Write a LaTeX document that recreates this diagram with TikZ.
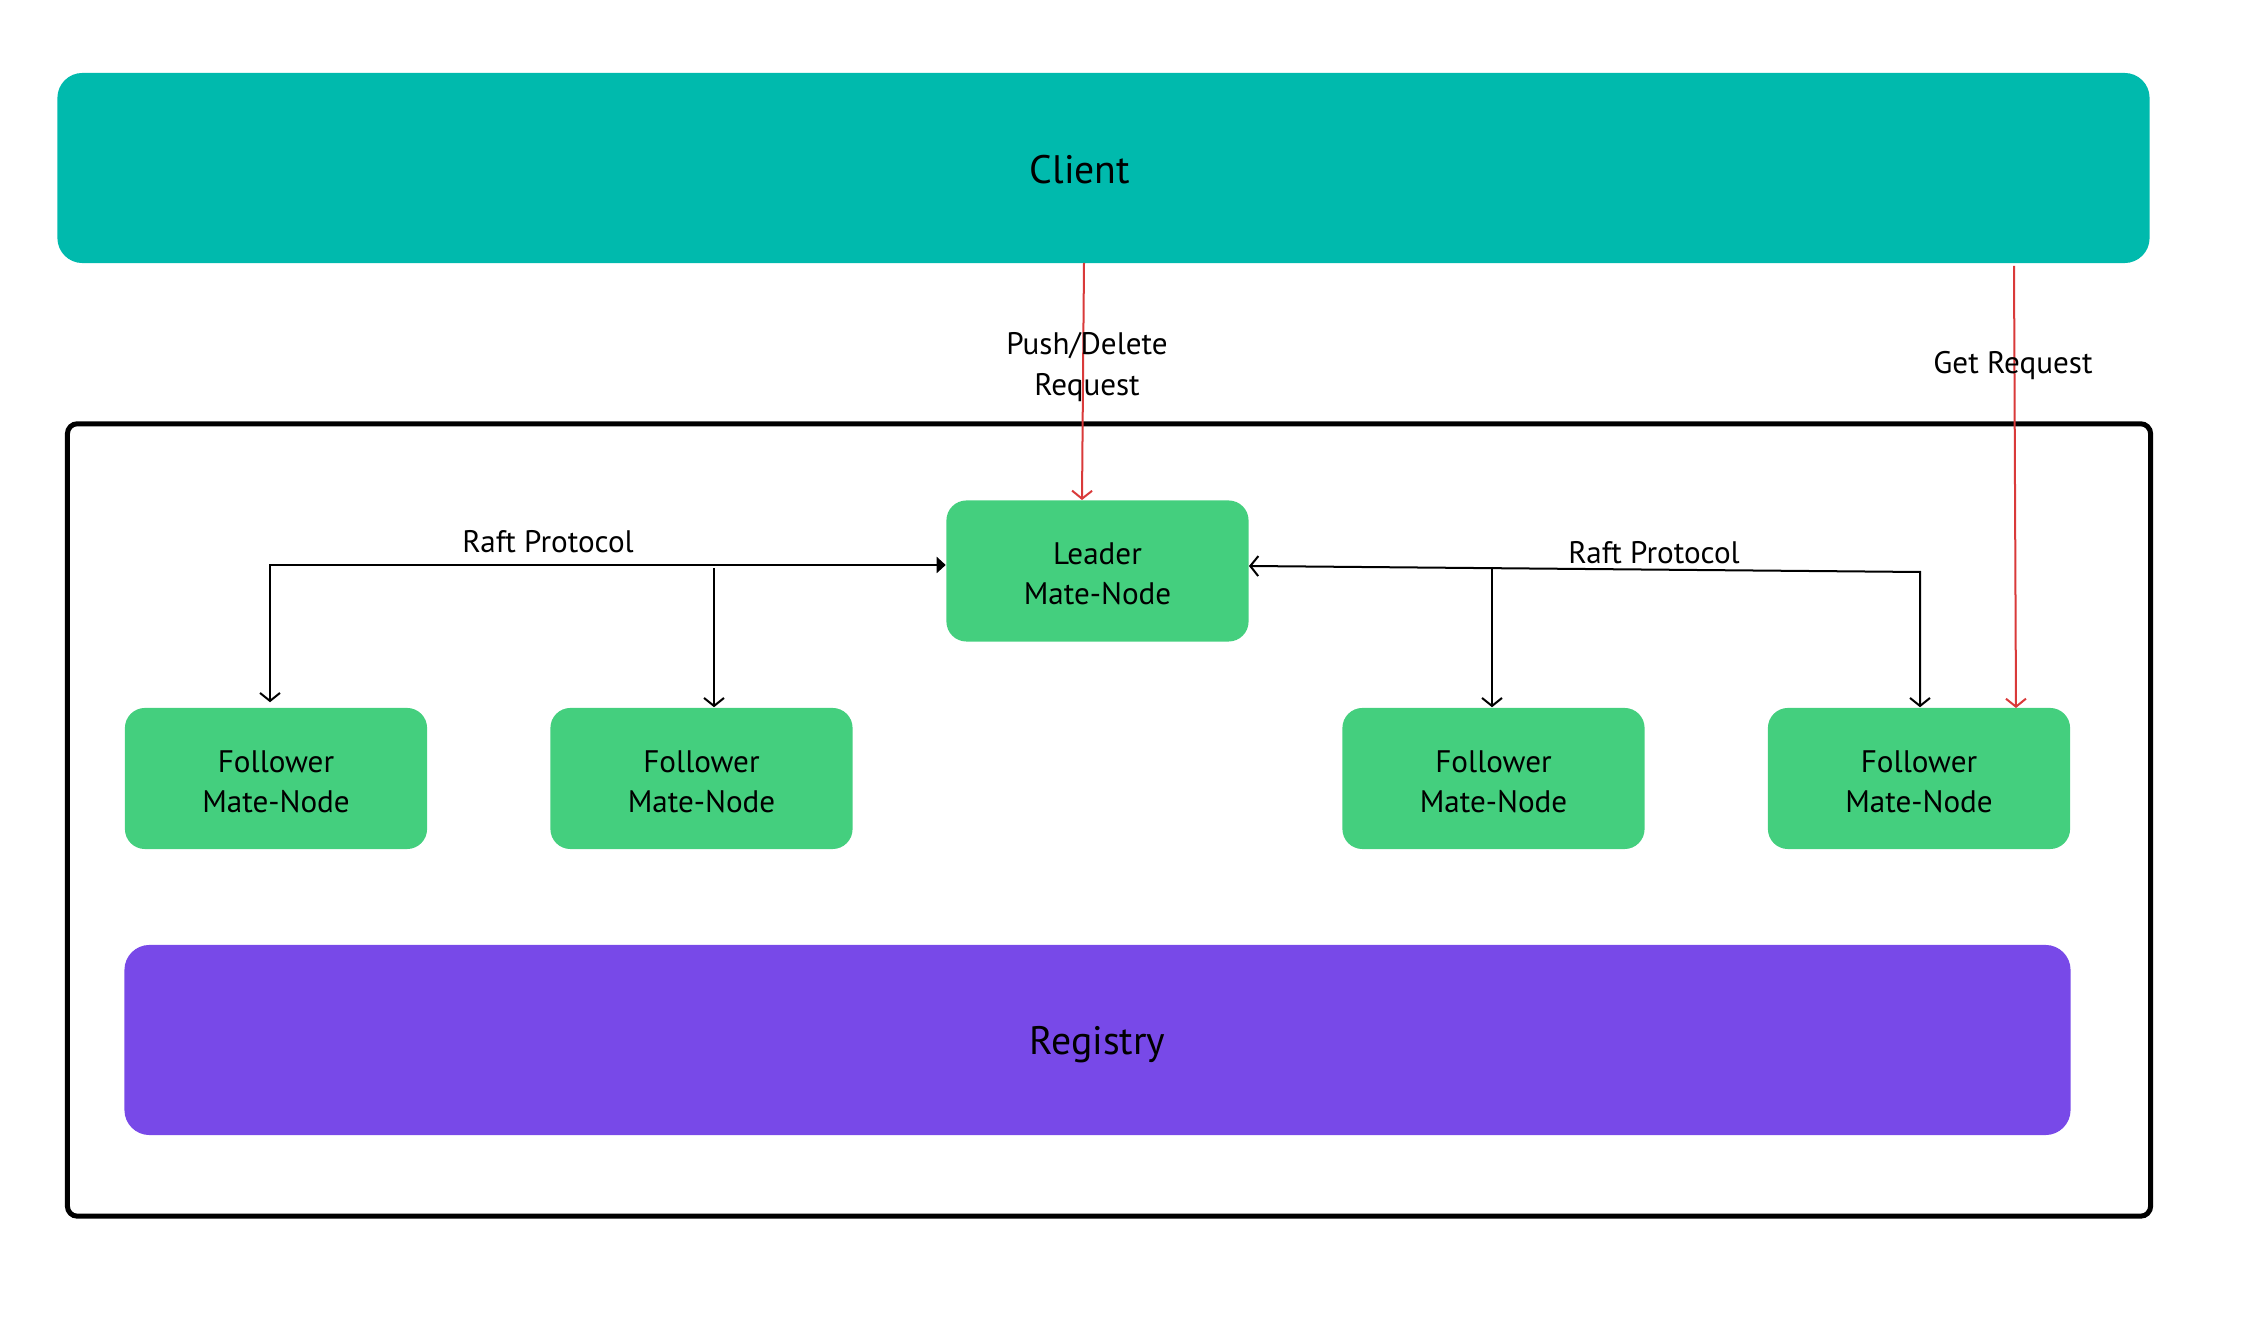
\documentclass[tikz,border=0pt]{standalone}
\usepackage{fontspec}
\setmainfont{PT Sans}
\usetikzlibrary{arrows.meta}
\definecolor{clientteal}{RGB}{0,186,173}
\definecolor{matego}{RGB}{68,207,126}
\definecolor{registrypurple}{RGB}{120,73,232}
\definecolor{reqred}{RGB}{217,58,58}
\begin{document}
\begin{tikzpicture}[x=0.01cm,y=-0.01cm,
  every node/.style={font=\fontsize{8.85pt}{11.4pt}\selectfont},
  bigfont/.style={font=\fontsize{11.3pt}{14pt}\selectfont},
  bigbox/.style={rectangle, rounded corners=0.25cm, inner sep=0pt},
  matenode/.style={rectangle, rounded corners=0.2cm, fill=matego, inner sep=0pt,
    minimum width=3.02cm, minimum height=1.41cm,
    label={[align=center, inner sep=0pt, yshift=-0.03cm]center:#1}},
  raft/.style={draw=black, line width=0.02cm},
  openbarb/.tip={Straight Barb[length=0.08cm,width=0.2cm]},
  solidtri/.tip={Triangle[length=0.09cm,width=0.16cm]},
  req/.style={draw=reqred, line width=0.02cm, -openbarb},
  lbl/.style={inner sep=0pt, align=center}]
\useasboundingbox (0,0) rectangle (2256,1334);

% client bar
\node[bigbox, fill=clientteal, minimum width=20.91cm, minimum height=1.9cm,
  label={[bigfont, xshift=-0.235cm, yshift=-0.015cm]center:Client}]
  (client) at (1103.5,168) {};

% cluster frame
\node[draw=black, line width=0.05cm, rounded corners=0.1cm, inner sep=0pt,
  minimum width=20.82cm, minimum height=7.92cm] (cluster) at (1109,820) {};

% mate nodes
\node[matenode={Leader\\Mate-Node}] (leader) at (1097.5,571) {};
\node[matenode={Follower\\Mate-Node}] (f1) at (276,778.5) {};
\node[matenode={Follower\\Mate-Node}] (f2) at (701.5,778.5) {};
\node[matenode={Follower\\Mate-Node}] (f3) at (1493.5,778.5) {};
\node[matenode={Follower\\Mate-Node}] (f4) at (1919,778.5) {};

% registry bar
\node[bigbox, fill=registrypurple, minimum width=19.45cm, minimum height=1.9cm,
  label={[bigfont, yshift=-0.05cm]center:Registry}] (registry) at (1097.5,1040) {};

% raft protocol, left group
\coordinate (lcorner) at (270,565);
\coordinate (lbranch) at (714,568);
\draw[raft, openbarb-solidtri] ([yshift=0.05cm]f1.north -| lcorner) |- (lcorner -| leader.west);
\draw[raft, -openbarb] (lbranch) -- (lbranch |- f2.north);
\node[lbl] (raftl) at (548,542) {Raft Protocol};

% raft protocol, right group
\coordinate (rstart) at (1249,566);
\coordinate (rcorner) at (1920,572);
\coordinate (rbranch) at (1492,567);
\draw[raft, openbarb-openbarb] (rstart) -- (rcorner) -- (rcorner |- f4.north);
\draw[raft, -openbarb] (rbranch) -- (rbranch |- f3.north);
\node[lbl] (raftr) at (1654,553) {Raft Protocol};

% client requests
\coordinate (pushtop) at (1084,263);
\coordinate (pushend) at (1082,500);
\draw[req] (pushtop) -- (pushend);
\node[lbl] (pushlbl) at (1087,367) {Push/Delete\\Request};
\coordinate (gettop) at (2014,266);
\coordinate (getend) at (2016,708);
\draw[req] (gettop) -- (getend);
\node[lbl] (getlbl) at (2013,366) {Get Request};
\end{tikzpicture}
\end{document}
